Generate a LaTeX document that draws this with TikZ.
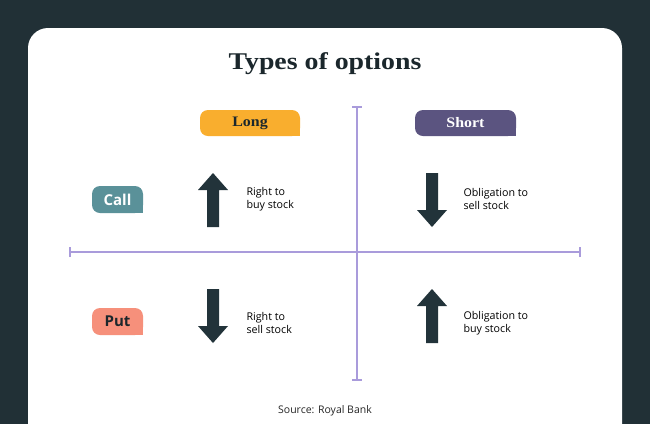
\documentclass[tikz,border=0pt]{standalone}
\usepackage{fontspec}
\setmainfont{Liberation Serif}
\newfontfamily\bodyfont{Open Sans}
\definecolor{bgdark}{HTML}{213036}
\definecolor{arrowc}{HTML}{22333A}
\definecolor{titlec}{HTML}{1B272C}
\definecolor{axisc}{HTML}{A99BDB}
\definecolor{longc}{HTML}{F9AE2E}
\definecolor{shortc}{HTML}{5B5480}
\definecolor{callc}{HTML}{5A9199}
\definecolor{putc}{HTML}{F6907B}
\begin{document}
\begin{tikzpicture}[x=1pt,y=-1pt,
  tabbox/.style={rounded corners=8pt, minimum height=26pt, inner sep=0pt, text=#1},
  bigup/.pic={\fill[arrowc] (0,-27) -- (15,-10) -- (6,-10) -- (6,27) -- (-6,27) -- (-6,-10) -- (-15,-10) -- cycle;},
  desc/.style={anchor=west, align=left, font=\bodyfont\fontsize{10.7}{13.2}\selectfont, text=black},
  axis/.style={draw=axisc, line width=1.8pt}
]
\useasboundingbox (0,0) rectangle (650,424);
\fill[bgdark] (0,0) rectangle (650,424);
\fill[white, rounded corners=20pt] (28,28) rectangle (622,460);
\node[font=\bfseries\fontsize{24}{28}\selectfont, text=titlec] (title) at (325,64) {\scalebox{1.16}[1]{Types of options}};

% axes
\coordinate (hl) at (70,252); \coordinate (hr) at (580,252);
\coordinate (vt) at (357,107); \coordinate (vb) at (357,380);
\draw[axis] (hl) -- (hr);
\draw[axis] (vt) -- (vb);
\draw[axis] ([yshift=-5pt]hl) -- ([yshift=5pt]hl);
\draw[axis] ([yshift=-5pt]hr) -- ([yshift=5pt]hr);
\draw[axis] ([xshift=-5pt]vt) -- ([xshift=5pt]vt);
\draw[axis] ([xshift=-5pt]vb) -- ([xshift=5pt]vb);

% tabs
\node[tabbox=titlec, fill=longc, minimum width=100pt, font=\bfseries\fontsize{14.5}{16}\selectfont] (long) at (250,123) {\scalebox{1.1}[1]{Long}};
\fill[longc] (long.south east) rectangle ++(-9,-9);
\node[tabbox=white, fill=shortc, minimum width=101pt, font=\bfseries\fontsize{14.5}{16}\selectfont] (short) at (465.5,123) {\scalebox{1.1}[1]{Short}};
\fill[shortc] (short.south east) rectangle ++(-9,-9);
\node[tabbox=white, fill=callc, minimum width=51pt, minimum height=27pt, font=\bodyfont\bfseries\fontsize{15}{17}\selectfont] (call) at (117.5,199.5) {Call};
\fill[callc] (call.south east) rectangle ++(-9,-9);
\node[tabbox=titlec, fill=putc, minimum width=51pt, minimum height=27pt, font=\bodyfont\bfseries\fontsize{15}{17}\selectfont] (put) at (117.5,321.5) {Put};
\fill[putc] (put.south east) rectangle ++(-9,-9);

% arrows
\pic at (213,200) {bigup};
\pic[yscale=-1] at (432,200) {bigup};
\pic[yscale=-1] at (213,316) {bigup};
\pic at (432,316) {bigup};

% descriptions
\node[desc] (d1) at (243,199) {Right to\\buy stock};
\node[desc] (d2) at (460,199) {Obligation to\\sell stock};
\node[desc] (d3) at (243,323) {Right to\\sell stock};
\node[desc] (d4) at (460,323) {Obligation to\\buy stock};

\node[font=\bodyfont\fontsize{10.5}{13}\selectfont, text=black!85] (src) at (325,411) {Source: Royal Bank};
\end{tikzpicture}
\end{document}
